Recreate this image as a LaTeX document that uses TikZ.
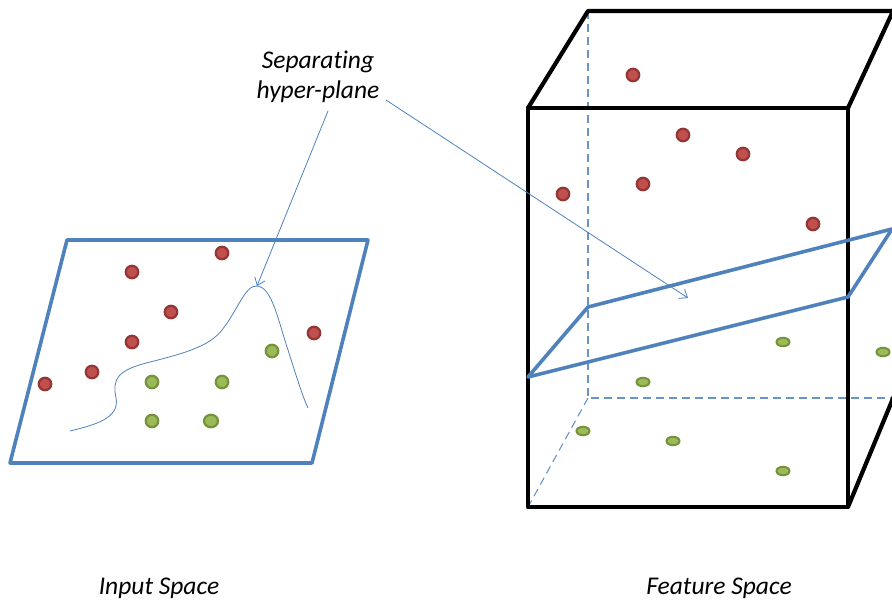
\documentclass[tikz,border=0pt]{standalone}
\usepackage{fontspec}
\setmainfont{Carlito}[Ligatures=NoCommon]
\usetikzlibrary{arrows.meta,shapes.geometric}
\definecolor{obl}{HTML}{4F81BD}
\definecolor{rfill}{HTML}{C0504D}
\definecolor{rring}{HTML}{943634}
\definecolor{gfill}{HTML}{9BBB59}
\definecolor{gring}{HTML}{76923C}
\begin{document}
\begin{tikzpicture}[x=1pt,y=-1pt,
  reddot/.style={circle,fill=rfill,draw=rring,line width=2.2pt,minimum size=12.5pt,inner sep=0pt},
  greendot/.style={ellipse,fill=gfill,draw=gring,line width=2.2pt,minimum width=12.5pt,minimum height=12.5pt,inner sep=0pt},
  flatdot/.style={ellipse,fill=gfill,draw=gring,line width=2pt,minimum width=13pt,minimum height=8.5pt,inner sep=0pt},
  planeline/.style={draw=obl,line width=3.6pt,line join=round},
  boxline/.style={draw=black,line width=4.2pt,line join=round},
  hidden/.style={draw=obl!85!white,line width=1.1pt,dash pattern=on 8pt off 5pt},
  pointer/.style={draw=obl,line width=0.8pt,-{Straight Barb[length=7pt,width=11pt]}},
  lbl/.style={font=\itshape\fontsize{25.5}{30}\selectfont,align=center,inner sep=0pt}]
\path[use as bounding box] (0,0) rectangle (892,603);
\clip (0,0) rectangle (892,603);
% ---------- input space ----------
\path[planeline] (67,240) -- (368,240) -- (312,463) -- (10,463) -- cycle;
\node[reddot] (r1) at (222,253) {};
\node[reddot] (r2) at (132,272) {};
\node[reddot] (r3) at (171,312) {};
\node[reddot] (r4) at (132,342) {};
\node[reddot] (r5) at (92,372) {};
\node[reddot] (r6) at (45,384) {};
\node[reddot] (r7) at (314,333) {};
\node[greendot] (g1) at (272,351) {};
\node[greendot] (g2) at (152,382) {};
\node[greendot] (g3) at (222,382) {};
\node[greendot] (g4) at (152,421) {};
\node[greendot, minimum width=14pt] (g5) at (211,421) {};
\coordinate (peak) at (257,286);
\draw[obl,line width=0.8pt] (70,431) .. controls (95,425) and (120,418) .. (116,398)
  .. controls (112,378) and (118,370) .. (150,362)
  .. controls (190,352) and (210,345) .. (222,330)
  .. controls (238,310) and (245,285) .. (257,286)
  .. controls (272,287) and (278,320) .. (288,350)
  .. controls (296,375) and (302,395) .. (308,408);
% ---------- feature space ----------
\draw[hidden] (588,11) -- (588,398) -- (900,398);
\draw[hidden] (588,398) -- (528,507);
\node[reddot] (fr1) at (633,75) {};
\node[reddot] (fr2) at (683,135) {};
\node[reddot] (fr3) at (743,154) {};
\node[reddot] (fr4) at (643,184) {};
\node[reddot] (fr5) at (563,194) {};
\node[reddot] (fr6) at (813,224) {};
\node[flatdot] (fg1) at (783,342) {};
\node[flatdot] (fg2) at (883,352) {};
\node[flatdot] (fg3) at (643,382) {};
\node[flatdot] (fg4) at (583,431) {};
\node[flatdot] (fg5) at (673,441) {};
\node[flatdot] (fg6) at (783,471) {};
\path[boxline] (528,507) -- (528,108) -- (848,108) -- (848,507) -- cycle;
\path[boxline] (528,108) -- (588,11) -- (900,11);
\path[boxline] (848,108) -- (894,9);
\path[boxline] (848,507) -- (894,396);
\path[planeline] (528,377) -- (588,307) -- (892,229) -- (848,297) -- cycle;
\coordinate (planept) at (688,298);
% ---------- labels ----------
\node[lbl] (sep) at (318,77) {Separating\\hyper-plane};
\coordinate (s1) at (328,111);
\coordinate (s2) at (386,100);
\draw[pointer] (s1) -- (peak);
\draw[pointer] (s2) -- (planept);
\node[lbl] (inp) at (159,588) {Input Space};
\node[lbl] (feat) at (719,588) {Feature Space};
\end{tikzpicture}
\end{document}
